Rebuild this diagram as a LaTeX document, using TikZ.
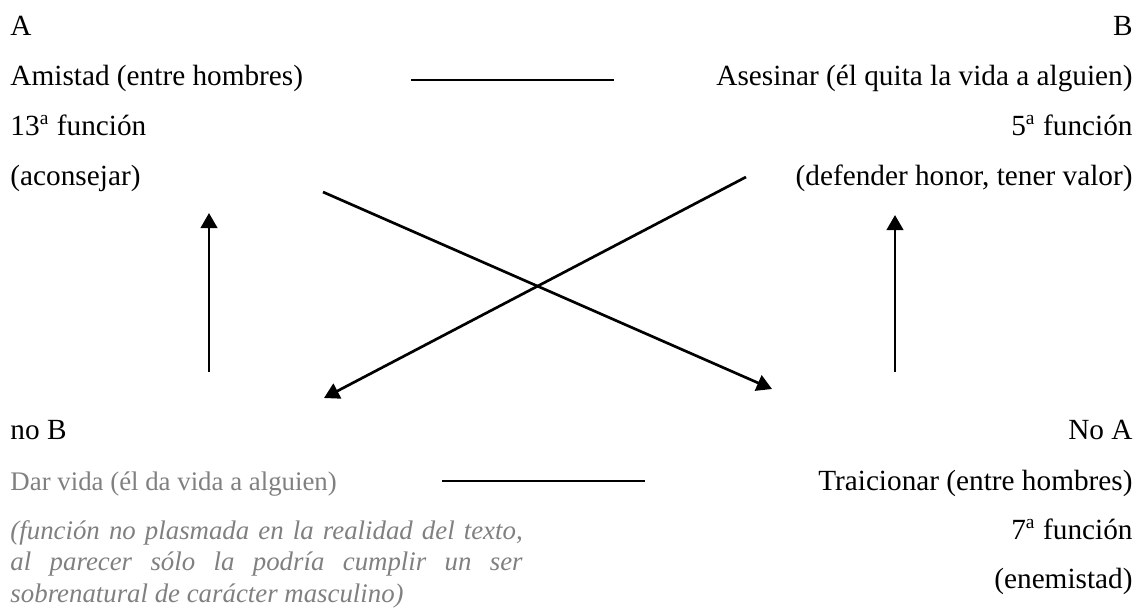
\documentclass[tikz,border=0pt]{standalone}
\usepackage{fontspec}
\setmainfont{Liberation Serif}
\usetikzlibrary{arrows.meta,positioning}
\definecolor{greytext}{gray}{0.5}
\tikzset{font=\fontsize{12}{14}\selectfont}
\tikzset{lft/.style={anchor=base west, inner sep=0pt},
         rgt/.style={anchor=base east, inner sep=0pt},
         grey/.style={text=greytext, font=\fontsize{11}{13}\selectfont}}
\tikzset{link/.style={line width=0.85pt},
         arr/.style={line width=1.1pt, -{Triangle[length=6.2pt,width=6.8pt]}}}

\begin{document}
\begin{tikzpicture}[x=0.41pt,y=-0.41pt]
  \useasboundingbox (0,0) rectangle (1138,610);

  % A
  \node[lft] (A) at (10,35) {A};
  \node[lft] (amistad) at (10,85) {Amistad (entre hombres)};
  \node[lft] (funcA) at (10,135) {13\textsuperscript{a} función};
  \node[lft] (aconsejar) at (10,185) {(aconsejar)};

  % B
  \node[rgt] (B) at (1133,35) {B};
  \node[rgt] (asesinar) at (1133,85) {Asesinar (él quita la vida a alguien)};
  \node[rgt] (funcB) at (1133,135) {5\textsuperscript{a} función};
  \node[rgt] (honor) at (1133,185) {(defender honor, tener valor)};

  % no B
  \node[lft] (noB) at (10,439) {no B};
  \node[lft, grey] (darvida) at (10,490) {Dar vida (él da vida a alguien)};
  \node[lft, grey, text width=210pt, align=justify,
        font=\fontsize{11}{13.1}\selectfont\itshape] (nota) at (10,539)
    {(función no plasmada en la realidad del texto,\linebreak
     al parecer sólo la podría cumplir un ser\linebreak
     sobrenatural de carácter masculino)};

  % No A
  \node[rgt] (noA) at (1133,439) {No A};
  \node[rgt] (traicionar) at (1133,490) {Traicionar (entre hombres)};
  \node[rgt] (funcnoA) at (1133,539) {7\textsuperscript{a} función};
  \node[rgt] (enemistad) at (1133,588) {(enemistad)};

  \coordinate (topL) at (411,80);
  \coordinate (topR) at (614,80);
  \coordinate (botL) at (442,481);
  \coordinate (botR) at (645,481);
  \coordinate (upA0) at (209,372);
  \coordinate (upA1) at (209,213);
  \coordinate (upB0) at (895,372);
  \coordinate (upB1) at (895,215);
  \coordinate (crA0) at (323,192);
  \coordinate (crA1) at (772,389);
  \coordinate (crB0) at (746,177);
  \coordinate (crB1) at (324,398);

  \draw[link] (topL)--(topR);
  \draw[link] (botL)--(botR);

  \foreach \s/\e in {upA0/upA1, upB0/upB1, crA0/crA1, crB0/crB1}{
    \draw[arr] (\s)--(\e);
  };
\end{tikzpicture}
\end{document}
